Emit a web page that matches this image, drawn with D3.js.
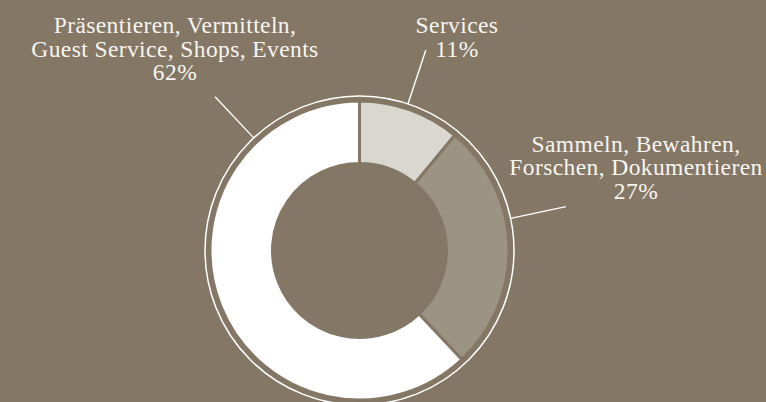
<!DOCTYPE html>
<html><head><meta charset="utf-8">
<script src="https://cdn.jsdelivr.net/npm/d3@7"></script>
<style>html,body{margin:0;padding:0;background:#847765;}svg{display:block;}</style>
</head><body>
<svg id="c" width="766" height="402"></svg>
<script>
const categories = ["Services", "Sammeln, Bewahren, Forschen, Dokumentieren", "Präsentieren, Vermitteln, Guest Service, Shops, Events"];
const values = [11, 27, 62];
const labelLines = [["Services", "11%"], ["Sammeln, Bewahren,", "Forschen, Dokumentieren", "27%"], ["Präsentieren, Vermitteln,", "Guest Service, Shops, Events", "62%"]];
const colors = ["#dad7d0", "#9d9383", "#ffffff"];
// leader line angles (degrees clockwise from top) and label anchors
const leaderAngles = [18.3, 78, 316.8];
const labelPos = [[457, 33], [636, 151.5], [175, 33]];

const W = 766, H = 402, cx = 359.5, cy = 250.5;
const rOuter = 149.5, rInner = 87, rRing = 154.5, rLeader = 211;
const svg = d3.select("#c");
svg.append("rect").attr("width", W).attr("height", H).attr("fill", "#847765");
const g = svg.append("g").attr("transform", `translate(${cx},${cy})`);

const pie = d3.pie().sort(null).value(d => d)(values);
const arc = d3.arc().innerRadius(rInner).outerRadius(rOuter);
g.selectAll("path.slice").data(pie).join("path").attr("class", "slice")
  .attr("d", arc).attr("fill", (d, i) => colors[i])
  .attr("stroke", "#847765").attr("stroke-width", 3).attr("stroke-linejoin", "miter");

g.append("circle").attr("r", rRing).attr("fill", "none").attr("stroke", "#ffffff").attr("stroke-width", 1.5);

const rad = a => a * Math.PI / 180;
g.selectAll("line.leader").data(leaderAngles).join("line").attr("class", "leader")
  .attr("x1", a => rRing * Math.sin(rad(a))).attr("y1", a => -rRing * Math.cos(rad(a)))
  .attr("x2", a => rLeader * Math.sin(rad(a))).attr("y2", a => -rLeader * Math.cos(rad(a)))
  .attr("stroke", "#ffffff").attr("stroke-width", 1.4);

labelLines.forEach((lines, i) => {
  const t = svg.append("text").attr("x", labelPos[i][0]).attr("y", labelPos[i][1])
    .attr("text-anchor", "middle").attr("fill", "#f7f5f1")
    .attr("font-family", "'Liberation Serif', 'Times New Roman', serif").attr("font-size", 23.5)
    .attr("letter-spacing", 0.4);
  lines.forEach((l, j) => t.append("tspan").attr("x", labelPos[i][0]).attr("dy", j === 0 ? 0 : 23.5).text(l));
});
</script>
</body></html>
